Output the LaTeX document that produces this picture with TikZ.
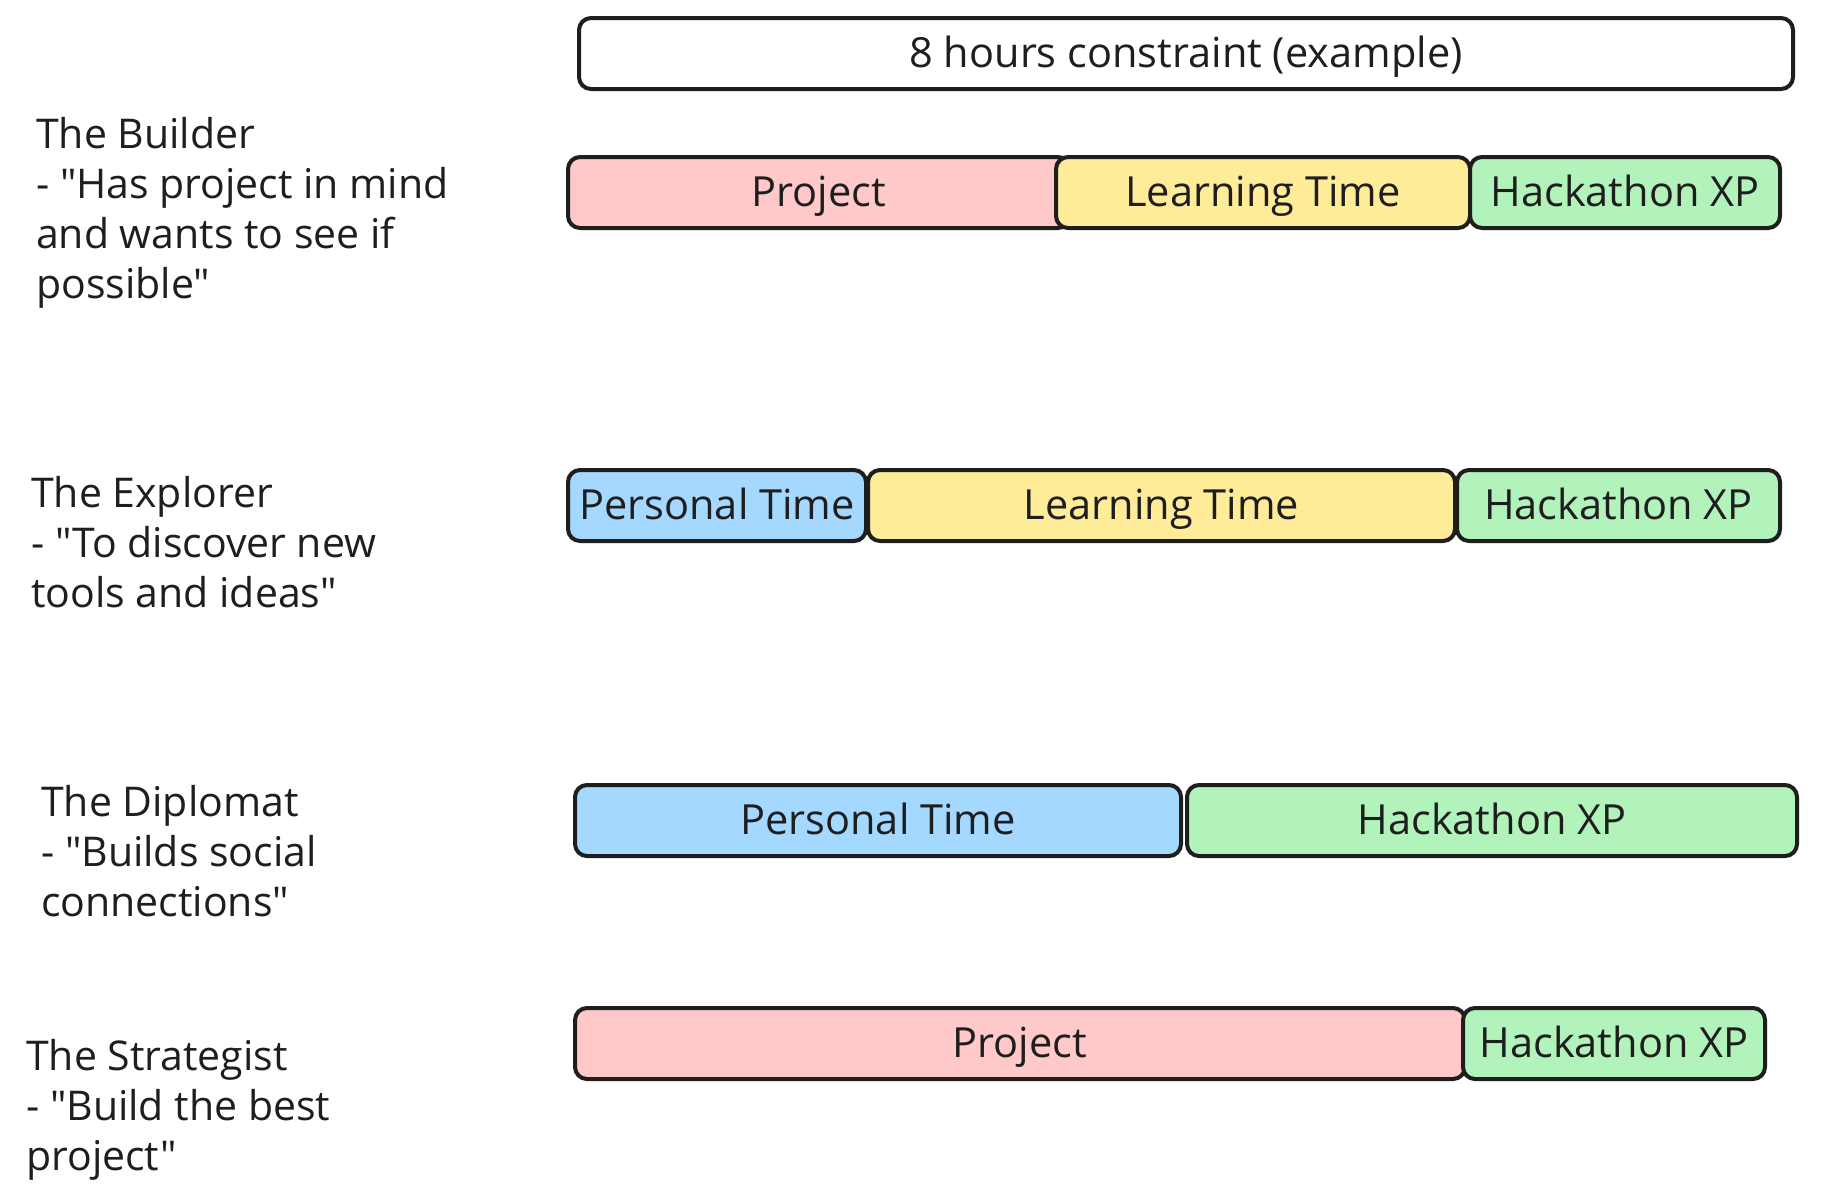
\documentclass[tikz,border=0pt]{standalone}
\usepackage{fontspec}
\setmainfont{Open Sans}[Ligatures=TeXOff]
\definecolor{ink}{HTML}{1E1E1E}
\definecolor{pinkc}{HTML}{FFC9C9}
\definecolor{yellowc}{HTML}{FFEC99}
\definecolor{greenc}{HTML}{B2F2BB}
\definecolor{bluec}{HTML}{A5D8FF}
\tikzset{
  bar/.style={draw=ink, line width=4pt, rounded corners=12pt, anchor=north west,
    inner sep=0pt, outer sep=0pt, minimum height=71pt, text=ink,
    text height=28pt, text depth=0pt,
    font=\fontsize{41.5}{48}\selectfont},
  persona/.style={anchor=base west, align=left, inner sep=0pt, text=ink,
    font=\fontsize{41}{50}\selectfont},
}
\begin{document}
\begin{tikzpicture}[x=1pt,y=-1pt]
\useasboundingbox[fill=white] (0,0) rectangle (1822,1195);
% top constraint bar
\node[bar, fill=white, minimum width=1214pt] (top) at (579,18) {8 hours constraint (example)};
% The Builder (anchor = baseline of last line)
\node[persona] (builder) at (36,298) {The Builder\\- "Has project in mind\\and wants to see if\\possible"};
\node[bar, fill=pinkc, minimum width=502pt] (bproj) at (568,157) {Project};
\node[bar, fill=yellowc, minimum width=414pt] (blearn) at (1056,157) {Learning Time};
\node[bar, fill=greenc, minimum width=310pt] (bhack) at (1470,157) {Hackathon XP};
% The Explorer
\node[persona] (explorer) at (31,607) {The Explorer\\- "To discover new\\tools and ideas"};
\node[bar, fill=bluec, minimum width=298pt] (epers) at (568,470) {Personal Time};
\node[bar, fill=yellowc, minimum width=587pt] (elearn) at (868,470) {Learning Time};
\node[bar, fill=greenc, minimum width=323pt] (ehack) at (1457,470) {Hackathon XP};
% The Diplomat
\node[persona] (diplomat) at (41,916) {The Diplomat\\- "Builds social\\connections"};
\node[bar, fill=bluec, minimum width=606pt] (dpers) at (575,785) {Personal Time};
\node[bar, fill=greenc, minimum width=610pt] (dhack) at (1187,785) {Hackathon XP};
% The Strategist
\node[persona] (strategist) at (26,1170) {The Strategist\\- "Build the best\\project"};
\node[bar, fill=pinkc, minimum width=890pt] (sproj) at (575,1008) {Project};
\node[bar, fill=greenc, minimum width=302pt] (shack) at (1463,1008) {Hackathon XP};
\end{tikzpicture}
\end{document}
